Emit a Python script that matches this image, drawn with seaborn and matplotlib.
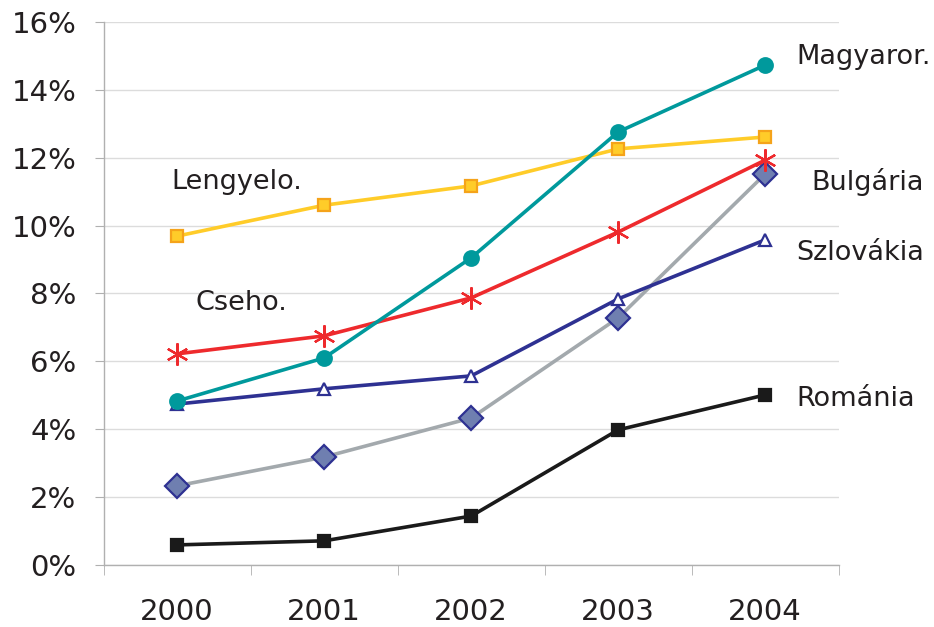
import pandas as pd
import matplotlib
matplotlib.use('Agg')
import matplotlib.pyplot as plt
import seaborn as sns
from matplotlib.ticker import FixedLocator, PercentFormatter

sns.set_style('white')
plt.rcParams['font.family'] = ['DejaVu Sans']

# ### Data (percent)
years = ['2000', '2001', '2002', '2003', '2004']
magyaror = [4.83, 6.10, 9.05, 12.76, 14.73]
lengyelo = [9.69, 10.60, 11.17, 12.26, 12.61]
cseho = [6.22, 6.75, 7.87, 9.81, 11.93]
szlovakia = [4.74, 5.19, 5.57, 7.84, 9.58]
bulgaria = [2.33, 3.18, 4.33, 7.28, 11.52]
romania = [0.59, 0.71, 1.44, 3.98, 5.01]

# name, values, line colour, marker, marker size, face, edge, label position
series = [
    ('Bulgária', bulgaria, '#a3a9ad', 'D', 12, '#6f7fb0', '#2e3192', (4.316, 11.28)),
    ('Románia', romania, '#1a1a1a', 's', 8, '#1a1a1a', '#1a1a1a', (4.214, 4.89)),
    ('Szlovákia', szlovakia, '#2e3192', '^', 9, 'white', '#2e3192', (4.214, 9.19)),
    ('Cseho.', cseho, '#ee2a2d', (6, 2, 0), 16, '#ee2a2d', '#ee2a2d', (0.126, 7.72)),
    ('Lengyelo.', lengyelo, '#ffcc29', 's', 8, '#ffcc29', '#f5a31a', (-0.037, 11.28)),
    ('Magyaror.', magyaror, '#00999c', 'o', 10.5, '#00999c', '#00999c', (4.214, 14.97)),
]

fig, ax = plt.subplots(figsize=(9.34, 6.27), dpi=100)
fig.subplots_adjust(left=0.111, right=0.898, top=0.965, bottom=0.099)

for name, vals, col, mk, ms, fc, ec, pos in series:
    df = pd.DataFrame({'year': years, 'value': vals})
    sns.lineplot(data=df, x='year', y='value', ax=ax, color=col, linewidth=2.6,
                 marker=mk, markersize=ms, markerfacecolor=fc, markeredgecolor=ec,
                 markeredgewidth=1.6, legend=False)
    ax.text(pos[0], pos[1], name, fontsize=19.5, color='#231f20',
            ha='left', va='center')

ax.set_xlim(-0.5, 4.5)
ax.set_ylim(0, 16)
ax.set_yticks(range(0, 17, 2))
ax.yaxis.set_major_formatter(PercentFormatter(decimals=0))
ax.set_xticks(range(len(years)))
ax.set_xticklabels(years)
ax.xaxis.set_minor_locator(FixedLocator([-0.5, 0.5, 1.5, 2.5, 3.5, 4.5]))
ax.set_xlabel('')
ax.set_ylabel('')

ax.grid(axis='y', color='#dcdcdc', linewidth=1)
ax.set_axisbelow(True)
for side in ['top', 'right']:
    ax.spines[side].set_visible(False)
for side in ['left', 'bottom']:
    ax.spines[side].set_color('#b0b0b0')
    ax.spines[side].set_linewidth(1)

ax.tick_params(axis='y', which='major', length=6.5, color='#b0b0b0', labelsize=21,
               labelcolor='#231f20', pad=13, left=True)
ax.tick_params(axis='x', which='major', length=0, labelsize=21,
               labelcolor='#231f20', pad=24)
ax.tick_params(axis='x', which='minor', length=7, color='#b0b0b0', bottom=True)

fig.savefig('out.png', dpi=100)
